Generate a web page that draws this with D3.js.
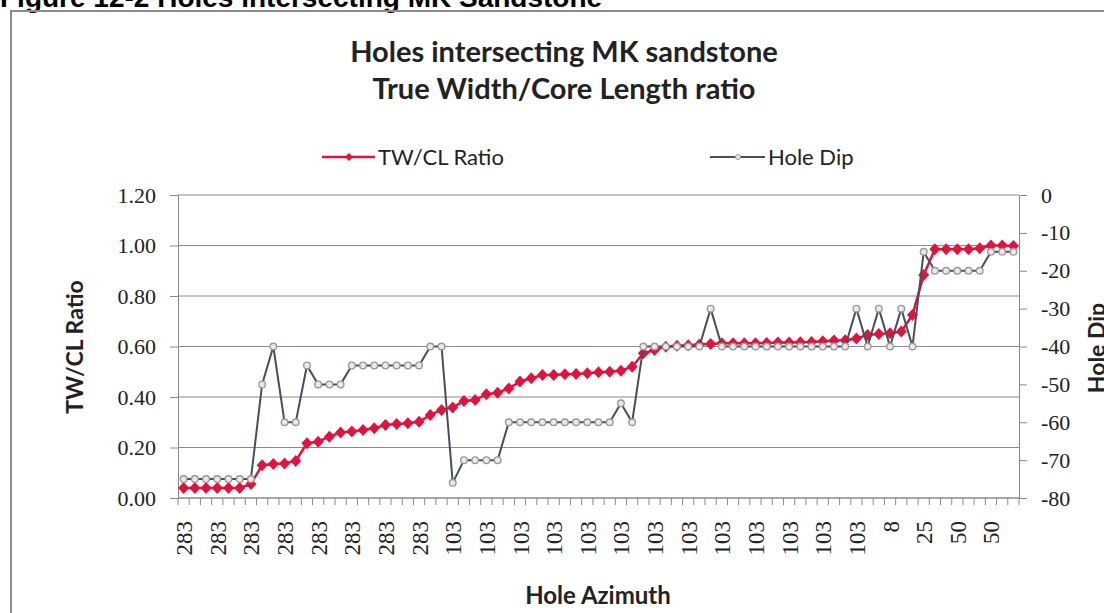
<!DOCTYPE html>
<meta charset="utf-8">
<style>
body {
  margin: 0;
  background: #fff;
}
svg text {
  fill: #222;
}
.tick text {
  font-family: "Liberation Serif", "Times New Roman", serif;
  font-size: 22px;
}
.grid line {
  stroke: #8a8a8a;
  stroke-width: 1;
}
</style>
<body>
<script src="https://cdnjs.cloudflare.com/ajax/libs/d3/7.8.5/d3.min.js"></script>
<script>

var width = 1104,
    height = 613;

// hole azimuth for each hole, in chart order
var azimuth = [
  283, 283, 283, 283, 283, 283, 283, 283, 283, 283, 283, 283,
  283, 283, 283, 283, 283, 283, 283, 283, 283, 283, 283, 283,
  103, 103, 103, 103, 103, 103, 103, 103, 103, 103, 103, 103, 103,
  103, 103, 103, 103, 103, 103, 103, 103, 103, 103, 103, 103, 103,
  103, 103, 103, 103, 103, 103, 103, 103, 103, 103, 103, 103,
  8, 8, 8, 25, 25, 25, 50, 50, 50, 50, 50, 50, 50
];

// true width / core length ratio
var ratio = [
  0.04, 0.04, 0.04, 0.04, 0.04, 0.04, 0.055, 0.13, 0.135, 0.137,
  0.147, 0.217, 0.223, 0.243, 0.259, 0.263, 0.269, 0.276, 0.289, 0.293,
  0.296, 0.302, 0.329, 0.349, 0.358, 0.384, 0.388, 0.411, 0.417, 0.434,
  0.461, 0.474, 0.487, 0.487, 0.490, 0.491, 0.494, 0.498, 0.500, 0.504,
  0.520, 0.573, 0.586, 0.599, 0.603, 0.605, 0.608, 0.610, 0.613, 0.613,
  0.613, 0.613, 0.614, 0.616, 0.616, 0.617, 0.618, 0.621, 0.624, 0.625,
  0.632, 0.646, 0.650, 0.652, 0.659, 0.725, 0.883, 0.985, 0.985, 0.985,
  0.985, 0.989, 1.00, 1.00, 0.998
];

// hole dip, degrees
var dip = [
  -75, -75, -75, -75, -75, -75, -75, -50, -40, -60,
  -60, -45, -50, -50, -50, -45, -45, -45, -45, -45,
  -45, -45, -40, -40, -76, -70, -70, -70, -70, -60,
  -60, -60, -60, -60, -60, -60, -60, -60, -60, -55,
  -60, -40, -40, -40, -40, -40, -40, -30, -40, -40,
  -40, -40, -40, -40, -40, -40, -40, -40, -40, -40,
  -30, -40, -30, -40, -30, -40, -15, -20, -20, -20,
  -20, -20, -15, -15, -15
];

var ratioTicks = [0, 0.2, 0.4, 0.6, 0.8, 1.0, 1.2];
var dipTicks = [-80, -70, -60, -50, -40, -30, -20, -10, 0];

var plotLeft = 178, plotRight = 1019, plotTop = 195, plotBottom = 498;

var svg = d3.select("body").append("svg")
    .attr("width", width)
    .attr("height", height);

// page heading, cut by the top edge
svg.append("text")
    .attr("x", 0)
    .attr("y", 7)
    .style("font-family", "'Liberation Sans', Arial, sans-serif")
    .style("font-weight", "bold")
    .style("font-size", "28px")
    .style("fill", "#000")
    .text("Figure 12-2 Holes intersecting MK Sandstone");

// chart frame
svg.append("rect")
    .attr("x", 11)
    .attr("y", 11)
    .attr("width", 1300)
    .attr("height", 800)
    .attr("fill", "none")
    .attr("stroke", "#8c8c8c")
    .attr("stroke-width", 2);

var x = d3.scaleBand()
    .domain(d3.range(ratio.length))
    .range([plotLeft, plotRight]);

var yL = d3.scaleLinear()
    .domain([0, 1.2])
    .range([plotBottom, plotTop]);

var yR = d3.scaleLinear()
    .domain([-80, 0])
    .range([plotBottom, plotTop]);

var cx = function(i) { return x(i) + x.bandwidth() / 2; };

// gridlines
svg.append("g")
    .attr("class", "grid")
  .selectAll("line")
    .data(ratioTicks)
  .enter().append("line")
    .attr("x1", plotLeft)
    .attr("x2", plotRight)
    .attr("y1", function(d) { return yL(d); })
    .attr("y2", function(d) { return yL(d); });

var axisL = svg.append("g")
    .attr("transform", "translate(" + plotLeft + ",0)")
    .call(d3.axisLeft(yL).tickValues(ratioTicks).tickFormat(d3.format(".2f")).tickSize(8).tickPadding(14));

var axisR = svg.append("g")
    .attr("transform", "translate(" + plotRight + ",0)")
    .call(d3.axisRight(yR).tickValues(dipTicks).tickFormat(function(d) { return String(d); }).tickSize(8).tickPadding(14));

[axisL, axisR].forEach(function(a) {
  a.select(".domain").attr("stroke", "#8a8a8a");
  a.selectAll(".tick line").attr("stroke", "#8a8a8a");
  a.selectAll(".tick text").attr("fill", "#222");
});

// category axis
var gx = svg.append("g");

gx.append("line")
    .attr("x1", plotLeft)
    .attr("x2", plotRight)
    .attr("y1", plotBottom)
    .attr("y2", plotBottom)
    .attr("stroke", "#8a8a8a");

gx.selectAll(".xt")
    .data(d3.range(ratio.length + 1))
  .enter().append("line")
    .attr("class", "xt")
    .attr("x1", function(i) { return i < ratio.length ? x(i) : plotRight; })
    .attr("x2", function(i) { return i < ratio.length ? x(i) : plotRight; })
    .attr("y1", plotBottom)
    .attr("y2", plotBottom + 7)
    .attr("stroke", "#8a8a8a");

gx.selectAll(".xl")
    .data(d3.range(0, ratio.length, 3))
  .enter().append("text")
    .attr("class", "xl")
    .attr("transform", function(i) { return "translate(" + (cx(i) + 1) + "," + (plotBottom + 23) + ") rotate(-90)"; })
    .attr("text-anchor", "end")
    .attr("dominant-baseline", "central")
    .style("font-family", "'Liberation Serif', 'Times New Roman', serif")
    .style("font-size", "23px")
    .style("fill", "#222")
    .text(function(i) { return azimuth[i]; });

// series
var ratioLine = d3.line()
    .x(function(d, i) { return cx(i); })
    .y(function(d) { return yL(d); });

var dipLine = d3.line()
    .x(function(d, i) { return cx(i); })
    .y(function(d) { return yR(d); });

var red = "#e3123c",
    slate = "#44505f";

var diamond = "M0,-6L5.5,0L0,6L-5.5,0Z";

svg.append("path")
    .datum(ratio)
    .attr("d", ratioLine)
    .attr("fill", "none")
    .attr("stroke", red)
    .attr("stroke-width", 2.5);

svg.selectAll(".rm")
    .data(ratio)
  .enter().append("path")
    .attr("class", "rm")
    .attr("d", diamond)
    .attr("transform", function(d, i) { return "translate(" + cx(i) + "," + yL(d) + ")"; })
    .attr("fill", red);

svg.append("path")
    .datum(dip)
    .attr("d", dipLine)
    .attr("fill", "none")
    .attr("stroke", slate)
    .attr("stroke-width", 2);

svg.selectAll(".dm")
    .data(dip)
  .enter().append("circle")
    .attr("class", "dm")
    .attr("cx", function(d, i) { return cx(i); })
    .attr("cy", function(d) { return yR(d); })
    .attr("r", 3.3)
    .attr("fill", "#f3e6e8")
    .attr("stroke", "#9a9a9a")
    .attr("stroke-width", 1.4);

// titles
var titleFont = "Lato, 'Open Sans', sans-serif";

svg.append("text")
    .attr("x", 564)
    .attr("y", 62)
    .attr("text-anchor", "middle")
    .style("font-family", titleFont)
    .style("font-weight", "bold")
    .style("font-size", "29px")
    .text("Holes intersecting MK sandstone");

svg.append("text")
    .attr("x", 564)
    .attr("y", 99)
    .attr("text-anchor", "middle")
    .style("font-family", titleFont)
    .style("font-weight", "bold")
    .style("font-size", "29px")
    .text("True Width/Core Length ratio");

// legend
var legend = svg.append("g");

legend.append("line")
    .attr("x1", 322).attr("x2", 375)
    .attr("y1", 157).attr("y2", 157)
    .attr("stroke", red).attr("stroke-width", 2.5);

legend.append("path")
    .attr("d", "M0,-4L4,0L0,4L-4,0Z")
    .attr("transform", "translate(349,157)")
    .attr("fill", red);

legend.append("text")
    .attr("x", 378)
    .attr("y", 165)
    .style("font-family", titleFont)
    .style("font-size", "22px")
    .text("TW/CL Ratio");

legend.append("line")
    .attr("x1", 710).attr("x2", 765)
    .attr("y1", 157).attr("y2", 157)
    .attr("stroke", slate).attr("stroke-width", 2);

legend.append("circle")
    .attr("cx", 738).attr("cy", 157).attr("r", 2.5)
    .attr("fill", "#f3e6e8").attr("stroke", "#9a9a9a");

legend.append("text")
    .attr("x", 768)
    .attr("y", 165)
    .style("font-family", titleFont)
    .style("font-size", "22px")
    .text("Hole Dip");

// axis titles
svg.append("text")
    .attr("transform", "translate(83,347) rotate(-90)")
    .attr("text-anchor", "middle")
    .style("font-family", titleFont)
    .style("font-weight", "bold")
    .style("font-size", "23px")
    .text("TW/CL Ratio");

svg.append("text")
    .attr("transform", "translate(1105,348) rotate(-90)")
    .attr("text-anchor", "middle")
    .style("font-family", titleFont)
    .style("font-weight", "bold")
    .style("font-size", "23px")
    .text("Hole Dip");

svg.append("text")
    .attr("x", 598)
    .attr("y", 604)
    .attr("text-anchor", "middle")
    .style("font-family", titleFont)
    .style("font-weight", "bold")
    .style("font-size", "24px")
    .text("Hole Azimuth");

</script>
